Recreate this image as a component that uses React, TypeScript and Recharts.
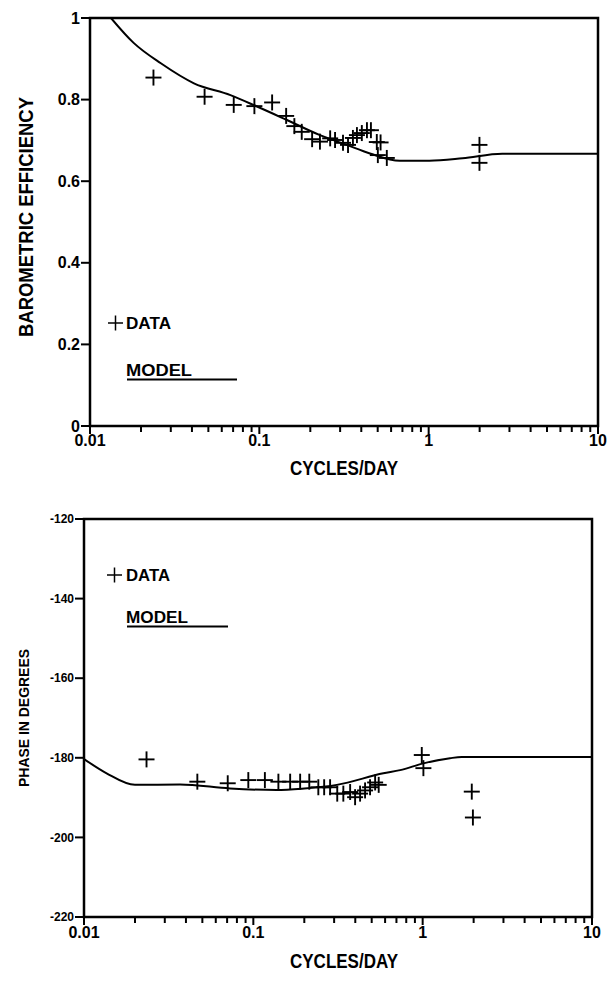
import { ComposedChart, Line, Scatter, XAxis, YAxis, ReferenceArea } from 'recharts';

const FONT = "'Liberation Sans Narrow', 'Arial Narrow', 'Liberation Sans', Arial, sans-serif";

// frequency axis (cycles/day), log scale
const freqTicks = [
  0.01, 0.02, 0.03, 0.04, 0.05, 0.06, 0.07, 0.08, 0.09,
  0.1, 0.2, 0.3, 0.4, 0.5, 0.6, 0.7, 0.8, 0.9,
  1, 2, 3, 4, 5, 6, 7, 8, 9, 10,
];
const freqMajor = [0.01, 0.1, 1, 10];
const freqLabels = ['0.01', '0.1', '1', '10'];

// barometric efficiency panel
const beTicks = [0, 0.2, 0.4, 0.6, 0.8, 1];
const beTickLabels = ['0', '0.2', '0.4', '0.6', '0.8', '1'];
const beDataFreq = [
  0.0237, 0.0475, 0.0706, 0.0935, 0.119, 0.144, 0.161, 0.178, 0.205, 0.228, 0.262, 0.28,
  0.312, 0.334, 0.357, 0.377, 0.403, 0.432, 0.456, 0.494, 0.52, 0.501, 0.566, 1.995, 1.995,
];
const beDataValue = [
  0.854, 0.807, 0.787, 0.784, 0.793, 0.76, 0.735, 0.721, 0.703, 0.697, 0.705, 0.701,
  0.694, 0.689, 0.706, 0.713, 0.718, 0.725, 0.725, 0.696, 0.695, 0.664, 0.657, 0.689, 0.645,
];
const beModelFreq = [0.0133, 0.0181, 0.0262, 0.0411, 0.0675, 0.0969, 0.1455, 0.228, 0.328, 0.45, 0.675, 1.01, 1.585, 2.72, 10];
const beModelValue = [1.0, 0.939, 0.889, 0.84, 0.811, 0.783, 0.75, 0.713, 0.689, 0.668, 0.65, 0.65, 0.656, 0.667, 0.667];

// phase panel
const phaseTicks = [-220, -200, -180, -160, -140, -120];
const phaseTickLabels = ['-220', '-200', '-180', '-160', '-140', '-120'];
const phaseDataFreq = [
  0.0234, 0.0467, 0.0706, 0.0934, 0.117, 0.1406, 0.165, 0.189, 0.214, 0.242, 0.262, 0.284,
  0.313, 0.34, 0.373, 0.399, 0.427, 0.457, 0.489, 0.524, 0.55, 0.988, 1.01, 1.95, 1.98,
];
const phaseDataValue = [
  -180.4, -186.0, -186.4, -185.6, -185.6, -186.0, -186.0, -186.0, -186.0, -187.4, -187.4, -187.4,
  -189.0, -189.0, -188.6, -189.9, -189.0, -188.2, -187.4, -186.2, -186.8, -179.3, -182.6, -188.5, -195.0,
];
const phaseModelFreq = [0.01, 0.0136, 0.02, 0.0369, 0.0728, 0.137, 0.2, 0.311, 0.586, 0.736, 1.01, 1.45, 1.7, 10];
const phaseModelValue = [-180.3, -183.9, -186.8, -186.7, -187.7, -188.1, -187.7, -186.8, -183.9, -183.1, -181.4, -180.1, -179.8, -179.8];

const zip = (xs: number[], ys: number[]) => xs.map((f, i) => ({ f, v: ys[i] }));

const Cross = (props: any) => {
  const { cx, cy } = props;
  const h = 8;
  return (
    <g stroke="#000" strokeWidth={1.9}>
      <line x1={cx - h} x2={cx + h} y1={cy} y2={cy} />
      <line x1={cx} x2={cx} y1={cy - h} y2={cy + h} />
    </g>
  );
};

const makeFreqTick = (fontSize: number, dy: number) => (props: any) => {
  const { x, y, payload } = props;
  const idx = freqMajor.indexOf(payload.value);
  const major = idx >= 0;
  return (
    <g>
      <line x1={x} x2={x} y1={y} y2={y + (major ? 8 : 6)} stroke="#000" strokeWidth={2} />
      {major && (
        <text x={x} y={y + dy} textAnchor="middle" fontFamily={FONT} fontWeight="bold" fontSize={fontSize} fill="#000">
          {freqLabels[idx]}
        </text>
      )}
    </g>
  );
};

const makeValueTick = (ticks: number[], labels: string[], fontSize: number) => (props: any) => {
  const { x, y, payload } = props;
  const idx = ticks.indexOf(payload.value);
  return (
    <g>
      <line x1={x - 9} x2={x} y1={y} y2={y} stroke="#000" strokeWidth={2} />
      <text x={x - 10} y={y} dy="0.35em" textAnchor="end" fontFamily={FONT} fontWeight="bold" fontSize={fontSize} fill="#000">
        {labels[idx]}
      </text>
    </g>
  );
};

function Panel(props: {
  height: number;
  margin: { top: number; right: number; bottom: number; left: number };
  yDomain: [number, number];
  yTicks: number[];
  yLabels: string[];
  yFont: number;
  xDy: number;
  data: { f: number; v: number }[];
  model: { f: number; v: number }[];
}) {
  const { height, margin, yDomain, yTicks, yLabels, yFont, xDy, data, model } = props;
  return (
    <ComposedChart width={611} height={height} margin={margin}>
      <XAxis
        dataKey="f"
        type="number"
        scale="log"
        domain={[0.01, 10]}
        ticks={freqTicks}
        interval={0}
        allowDataOverflow
        axisLine={false}
        tickLine={false}
        tickSize={0}
        tickMargin={0}
        height={40}
        tick={makeFreqTick(16, xDy)}
      />
      <YAxis
        type="number"
        domain={yDomain}
        ticks={yTicks}
        interval={0}
        allowDataOverflow
        axisLine={false}
        tickLine={false}
        tickSize={0}
        tickMargin={0}
        width={50}
        tick={makeValueTick(yTicks, yLabels, yFont)}
      />
      <ReferenceArea
        x1={0.01}
        x2={10}
        y1={yDomain[0]}
        y2={yDomain[1]}
        fill="none"
        stroke="#000"
        strokeWidth={2.5}
        ifOverflow="visible"
      />
      <Line
        data={model}
        dataKey="v"
        type="monotone"
        stroke="#000"
        strokeWidth={2}
        dot={false}
        isAnimationActive={false}
      />
      <Scatter data={data} dataKey="v" shape={Cross} isAnimationActive={false} />
    </ComposedChart>
  );
}

export default function App() {
  const textStyle = { fontFamily: FONT, fontWeight: 'bold' as const, fill: '#000' };
  return (
    <div style={{ position: 'absolute', left: 0, top: 0, width: 611, height: 982, background: '#fff' }}>
      <div style={{ position: 'absolute', left: 0, top: 0 }}>
        <Panel
          height={490}
          margin={{ top: 18, right: 13, bottom: 24, left: 40 }}
          yDomain={[0, 1]}
          yTicks={beTicks}
          yLabels={beTickLabels}
          yFont={16}
          xDy={20}
          data={zip(beDataFreq, beDataValue)}
          model={zip(beModelFreq, beModelValue)}
        />
      </div>
      <div style={{ position: 'absolute', left: 0, top: 490 }}>
        <Panel
          height={492}
          margin={{ top: 29, right: 19, bottom: 25, left: 34 }}
          yDomain={[-220, -120]}
          yTicks={phaseTicks}
          yLabels={phaseTickLabels}
          yFont={12}
          xDy={21}
          data={zip(phaseDataFreq, phaseDataValue)}
          model={zip(phaseModelFreq, phaseModelValue)}
        />
      </div>
      <svg width={611} height={982} style={{ position: 'absolute', left: 0, top: 0, pointerEvents: 'none' }}>
        {/* axis titles */}
        <text x={344} y={475} textAnchor="middle" fontSize={20} textLength={108} lengthAdjust="spacingAndGlyphs" {...textStyle}>
          CYCLES/DAY
        </text>
        <text x={344} y={968} textAnchor="middle" fontSize={20} textLength={108} lengthAdjust="spacingAndGlyphs" {...textStyle}>
          CYCLES/DAY
        </text>
        <text
          x={26}
          y={217}
          textAnchor="middle"
          dy="0.35em"
          fontSize={21}
          textLength={240}
          lengthAdjust="spacingAndGlyphs"
          transform="rotate(-90 26 217)"
          {...textStyle}
        >
          BAROMETRIC EFFICIENCY
        </text>
        <text
          x={24}
          y={718}
          textAnchor="middle"
          dy="0.35em"
          fontSize={14}
          textLength={138}
          lengthAdjust="spacingAndGlyphs"
          transform="rotate(-90 24 718)"
          {...textStyle}
        >
          PHASE IN DEGREES
        </text>
        {/* legend, top panel */}
        <g stroke="#000" strokeWidth={1.5}>
          <line x1={108} x2={123} y1={323} y2={323} />
          <line x1={115.5} x2={115.5} y1={315.5} y2={330.5} />
        </g>
        <text x={126} y={329} fontSize={17} textLength={45} lengthAdjust="spacingAndGlyphs" {...textStyle}>DATA</text>
        <text x={126} y={376} fontSize={17} textLength={66} lengthAdjust="spacingAndGlyphs" {...textStyle}>MODEL</text>
        <line x1={127} x2={237} y1={379.5} y2={379.5} stroke="#000" strokeWidth={1.8} />
        {/* legend, bottom panel */}
        <g stroke="#000" strokeWidth={1.5}>
          <line x1={107} x2={122} y1={575} y2={575} />
          <line x1={114.5} x2={114.5} y1={567.5} y2={582.5} />
        </g>
        <text x={126} y={581} fontSize={17} textLength={44} lengthAdjust="spacingAndGlyphs" {...textStyle}>DATA</text>
        <text x={126} y={623} fontSize={17} textLength={62} lengthAdjust="spacingAndGlyphs" {...textStyle}>MODEL</text>
        <line x1={127} x2={228} y1={626.5} y2={626.5} stroke="#000" strokeWidth={1.8} />
      </svg>
    </div>
  );
}
